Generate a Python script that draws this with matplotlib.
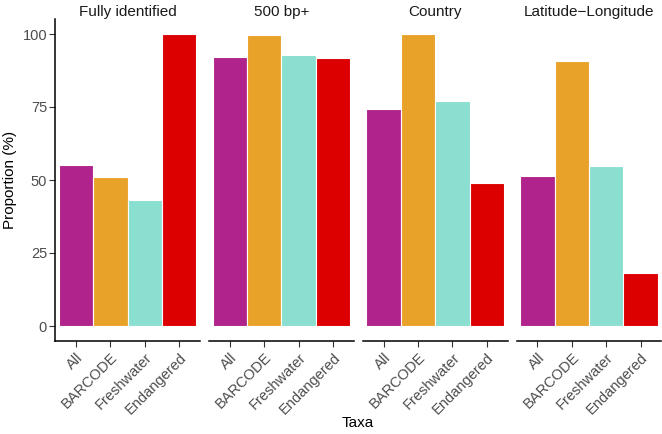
import matplotlib.pyplot as plt
import numpy as np

plt.rcParams['font.family'] = ['Liberation Sans', 'DejaVu Sans']

panels = ["Fully identified", "500 bp+", "Country", "Latitude\u2212Longitude"]
taxa = ["All", "BARCODE", "Freshwater", "Endangered"]
fully_identified = [55, 51, 43, 100]
bp500 = [92.2, 99.7, 92.8, 91.7]
country = [74.2, 100, 77, 48.9]
lat_long = [51.4, 90.9, 54.8, 18]
colors = ["#B0228C", "#E8A22A", "#8ADFD0", "#DD0000"]

values = [fully_identified, bp500, country, lat_long]

fig = plt.figure(figsize=(6.62, 4.34), dpi=100)

left0 = 55.4 / 662
w = 144.5 / 662
pitch = 153.8 / 662
bottom = 1 - 340.6 / 434
h = (340.6 - 19.4) / 434
grey = "#4D4D4D"

x = np.arange(1, 5)
for i, (name, vals) in enumerate(zip(panels, values)):
    ax = fig.add_axes([left0 + i * pitch, bottom, w, h])
    ax.bar(x, vals, width=1.0, color=colors, edgecolor="white", linewidth=0.8)
    ax.set_xlim(0.4, 4.6)
    ax.set_ylim(-5, 105)
    ax.set_xticks(x)
    ax.set_xticklabels(taxa, rotation=45, ha="right", rotation_mode="anchor",
                       fontsize=10.5, color=grey)
    ax.set_title(name, fontsize=11, pad=2.5, color="#1A1A1A")
    for s in ["top", "right"]:
        ax.spines[s].set_visible(False)
    ax.spines["bottom"].set_linewidth(1.1)
    ax.spines["left"].set_linewidth(1.1)
    ax.tick_params(axis="x", length=4, width=0.8, color="#333333", pad=3)
    if i == 0:
        ax.set_yticks([0, 25, 50, 75, 100])
        ax.tick_params(axis="y", length=4, width=0.8, color="#333333",
                       labelsize=10.5, labelcolor=grey, pad=2)
        ax.set_ylabel("Proportion (%)", fontsize=11, labelpad=4)
    else:
        ax.spines["left"].set_visible(False)
        ax.set_yticks([])

fig.text(358 / 662, 1 - 423 / 434, "Taxa", ha="center", va="center", fontsize=11)

fig.savefig("out.png", dpi=100)
